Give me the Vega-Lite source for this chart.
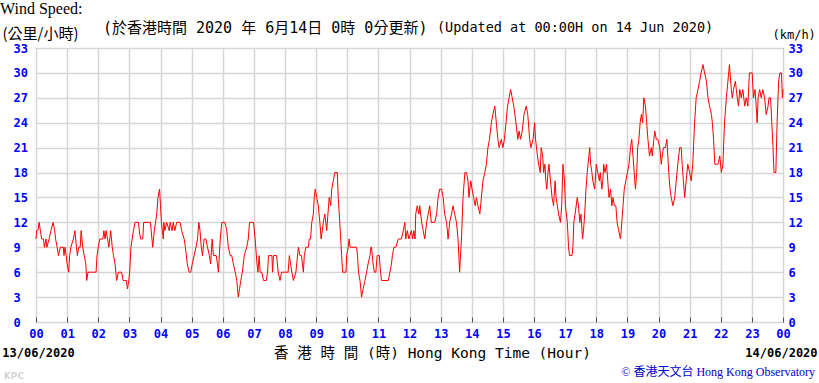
{
  "$schema": "https://vega.github.io/schema/vega-lite/v6.json",
  "width": 747,
  "height": 274,
  "autosize": {"type": "none"},
  "padding": {"left": 36, "top": 48, "right": 36, "bottom": 61},
  "background": "white",
  "title": {"text": "Wind Speed:", "anchor": "start", "frame": "group", "dx": -36, "font": "Liberation Serif", "fontSize": 16, "fontWeight": "normal", "color": "#000000"},
  "config": {"view": {"stroke": "#333333", "strokeWidth": 1}},
  "data": {"values": [
    {"h":0.00,"v":10},{"h":0.02,"v":11},{"h":0.06,"v":11},{"h":0.10,"v":12},{"h":0.14,"v":11},{"h":0.18,"v":10},{"h":0.24,"v":10},{"h":0.27,"v":9},{"h":0.32,"v":10},{"h":0.35,"v":9},{"h":0.42,"v":10},{"h":0.48,"v":11},{"h":0.55,"v":12},{"h":0.60,"v":11},{"h":0.63,"v":10},{"h":0.68,"v":9},{"h":0.72,"v":8},{"h":0.78,"v":9},{"h":0.88,"v":9},{"h":0.90,"v":8},{"h":0.93,"v":9},{"h":0.97,"v":8},{"h":1.00,"v":7},{"h":1.05,"v":6},{"h":1.08,"v":8},{"h":1.12,"v":9},{"h":1.20,"v":10},{"h":1.25,"v":11},{"h":1.30,"v":9},{"h":1.33,"v":8},{"h":1.37,"v":9},{"h":1.42,"v":9},{"h":1.45,"v":11},{"h":1.50,"v":9},{"h":1.55,"v":8},{"h":1.60,"v":7},{"h":1.63,"v":5},{"h":1.67,"v":6},{"h":1.80,"v":6},{"h":1.93,"v":6},{"h":1.96,"v":8},{"h":2.00,"v":9},{"h":2.05,"v":10},{"h":2.15,"v":10},{"h":2.18,"v":11},{"h":2.22,"v":10},{"h":2.25,"v":11},{"h":2.30,"v":10},{"h":2.34,"v":9},{"h":2.37,"v":10},{"h":2.40,"v":11},{"h":2.45,"v":9},{"h":2.49,"v":8},{"h":2.54,"v":7},{"h":2.59,"v":5},{"h":2.65,"v":6},{"h":2.75,"v":6},{"h":2.80,"v":5},{"h":2.90,"v":5},{"h":2.94,"v":4},{"h":2.98,"v":5},{"h":3.01,"v":6},{"h":3.05,"v":9},{"h":3.13,"v":11},{"h":3.18,"v":12},{"h":3.29,"v":12},{"h":3.32,"v":11},{"h":3.36,"v":10},{"h":3.43,"v":10},{"h":3.46,"v":12},{"h":3.68,"v":12},{"h":3.70,"v":11},{"h":3.75,"v":9},{"h":3.80,"v":11},{"h":3.84,"v":12},{"h":3.88,"v":13},{"h":3.92,"v":15},{"h":3.97,"v":16},{"h":4.00,"v":14},{"h":4.03,"v":12},{"h":4.06,"v":11},{"h":4.09,"v":10},{"h":4.11,"v":12},{"h":4.14,"v":11},{"h":4.20,"v":12},{"h":4.28,"v":11},{"h":4.31,"v":12},{"h":4.37,"v":11},{"h":4.41,"v":12},{"h":4.46,"v":11},{"h":4.52,"v":12},{"h":4.63,"v":12},{"h":4.68,"v":11},{"h":4.76,"v":10},{"h":4.80,"v":9},{"h":4.86,"v":7},{"h":4.92,"v":6},{"h":4.97,"v":6},{"h":5.02,"v":7},{"h":5.08,"v":8},{"h":5.14,"v":9},{"h":5.19,"v":10},{"h":5.23,"v":12},{"h":5.27,"v":11},{"h":5.31,"v":9},{"h":5.35,"v":8},{"h":5.40,"v":10},{"h":5.46,"v":10},{"h":5.51,"v":9},{"h":5.57,"v":8},{"h":5.61,"v":7},{"h":5.66,"v":10},{"h":5.70,"v":8},{"h":5.79,"v":8},{"h":5.83,"v":7},{"h":5.86,"v":6},{"h":5.92,"v":10},{"h":5.97,"v":12},{"h":6.07,"v":12},{"h":6.13,"v":11},{"h":6.18,"v":9},{"h":6.24,"v":8},{"h":6.29,"v":8},{"h":6.34,"v":7},{"h":6.40,"v":6},{"h":6.45,"v":5},{"h":6.50,"v":3},{"h":6.54,"v":4},{"h":6.58,"v":5},{"h":6.63,"v":6},{"h":6.69,"v":8},{"h":6.77,"v":9},{"h":6.82,"v":10},{"h":6.86,"v":12},{"h":6.99,"v":12},{"h":7.04,"v":10},{"h":7.10,"v":7},{"h":7.13,"v":6},{"h":7.17,"v":8},{"h":7.20,"v":6},{"h":7.25,"v":6},{"h":7.31,"v":5},{"h":7.40,"v":5},{"h":7.44,"v":6},{"h":7.47,"v":8},{"h":7.58,"v":8},{"h":7.60,"v":6},{"h":7.63,"v":8},{"h":7.73,"v":8},{"h":7.78,"v":6},{"h":7.84,"v":5},{"h":7.89,"v":6},{"h":8.10,"v":6},{"h":8.14,"v":8},{"h":8.18,"v":7},{"h":8.22,"v":6},{"h":8.27,"v":5},{"h":8.35,"v":6},{"h":8.43,"v":9},{"h":8.48,"v":8},{"h":8.53,"v":8},{"h":8.59,"v":6},{"h":8.62,"v":8},{"h":8.67,"v":9},{"h":8.75,"v":9},{"h":8.78,"v":10},{"h":8.82,"v":10},{"h":8.86,"v":12},{"h":8.91,"v":13},{"h":8.94,"v":15},{"h":8.97,"v":16},{"h":9.02,"v":15},{"h":9.07,"v":14},{"h":9.12,"v":12},{"h":9.16,"v":10},{"h":9.20,"v":11},{"h":9.23,"v":12},{"h":9.28,"v":13},{"h":9.34,"v":11},{"h":9.38,"v":13},{"h":9.42,"v":15},{"h":9.47,"v":14},{"h":9.50,"v":16},{"h":9.55,"v":17},{"h":9.60,"v":18},{"h":9.68,"v":18},{"h":9.71,"v":15},{"h":9.76,"v":12},{"h":9.82,"v":8},{"h":9.85,"v":6},{"h":9.96,"v":6},{"h":9.98,"v":8},{"h":10.03,"v":9},{"h":10.06,"v":10},{"h":10.09,"v":9},{"h":10.30,"v":9},{"h":10.33,"v":8},{"h":10.36,"v":6},{"h":10.41,"v":5},{"h":10.46,"v":3},{"h":10.51,"v":4},{"h":10.57,"v":5},{"h":10.62,"v":6},{"h":10.67,"v":7},{"h":10.73,"v":8},{"h":10.76,"v":9},{"h":10.78,"v":9},{"h":10.83,"v":7},{"h":10.87,"v":6},{"h":10.92,"v":6},{"h":10.96,"v":8},{"h":11.03,"v":8},{"h":11.07,"v":6},{"h":11.10,"v":5},{"h":11.32,"v":5},{"h":11.37,"v":6},{"h":11.42,"v":7},{"h":11.45,"v":8},{"h":11.50,"v":9},{"h":11.56,"v":9},{"h":11.64,"v":10},{"h":11.74,"v":10},{"h":11.80,"v":11},{"h":11.85,"v":12},{"h":11.88,"v":10},{"h":11.93,"v":11},{"h":11.98,"v":10},{"h":12.06,"v":11},{"h":12.10,"v":10},{"h":12.14,"v":11},{"h":12.18,"v":10},{"h":12.20,"v":13},{"h":12.25,"v":14},{"h":12.30,"v":13},{"h":12.33,"v":14},{"h":12.39,"v":12},{"h":12.44,"v":11},{"h":12.49,"v":10},{"h":12.55,"v":12},{"h":12.60,"v":13},{"h":12.65,"v":14},{"h":12.70,"v":12},{"h":12.76,"v":12},{"h":12.81,"v":12},{"h":12.87,"v":13},{"h":12.92,"v":15},{"h":12.97,"v":16},{"h":13.03,"v":16},{"h":13.08,"v":15},{"h":13.13,"v":13},{"h":13.19,"v":12},{"h":13.24,"v":10},{"h":13.29,"v":12},{"h":13.35,"v":13},{"h":13.40,"v":14},{"h":13.45,"v":13},{"h":13.51,"v":12},{"h":13.56,"v":10},{"h":13.61,"v":6},{"h":13.67,"v":10},{"h":13.72,"v":15},{"h":13.78,"v":18},{"h":13.83,"v":18},{"h":13.88,"v":17},{"h":13.91,"v":15},{"h":13.97,"v":17},{"h":14.01,"v":16},{"h":14.06,"v":15},{"h":14.11,"v":14},{"h":14.15,"v":15},{"h":14.20,"v":14},{"h":14.26,"v":13},{"h":14.31,"v":15},{"h":14.36,"v":17},{"h":14.42,"v":18},{"h":14.47,"v":19},{"h":14.52,"v":21},{"h":14.57,"v":22},{"h":14.63,"v":24},{"h":14.68,"v":25},{"h":14.74,"v":26},{"h":14.79,"v":24},{"h":14.84,"v":22},{"h":14.88,"v":21},{"h":14.95,"v":22},{"h":15.00,"v":21},{"h":15.05,"v":22},{"h":15.10,"v":24},{"h":15.15,"v":26},{"h":15.20,"v":27},{"h":15.25,"v":28},{"h":15.30,"v":27},{"h":15.35,"v":26},{"h":15.42,"v":24},{"h":15.48,"v":22},{"h":15.52,"v":23},{"h":15.57,"v":22},{"h":15.62,"v":23},{"h":15.68,"v":25},{"h":15.75,"v":26},{"h":15.80,"v":25},{"h":15.86,"v":22},{"h":15.90,"v":21},{"h":15.97,"v":22},{"h":16.02,"v":24},{"h":16.05,"v":22},{"h":16.11,"v":20},{"h":16.15,"v":19},{"h":16.20,"v":18},{"h":16.23,"v":21},{"h":16.28,"v":20},{"h":16.31,"v":18},{"h":16.35,"v":19},{"h":16.38,"v":17},{"h":16.41,"v":16},{"h":16.45,"v":18},{"h":16.48,"v":19},{"h":16.53,"v":17},{"h":16.58,"v":15},{"h":16.63,"v":14},{"h":16.66,"v":16},{"h":16.68,"v":17},{"h":16.71,"v":15},{"h":16.79,"v":13},{"h":16.85,"v":12},{"h":16.89,"v":14},{"h":16.93,"v":19},{"h":16.98,"v":17},{"h":17.01,"v":14},{"h":17.07,"v":12},{"h":17.11,"v":9},{"h":17.14,"v":8},{"h":17.22,"v":8},{"h":17.25,"v":9},{"h":17.28,"v":12},{"h":17.32,"v":13},{"h":17.39,"v":15},{"h":17.43,"v":14},{"h":17.47,"v":12},{"h":17.51,"v":13},{"h":17.56,"v":10},{"h":17.59,"v":11},{"h":17.63,"v":13},{"h":17.67,"v":16},{"h":17.71,"v":18},{"h":17.79,"v":21},{"h":17.82,"v":19},{"h":17.86,"v":18},{"h":17.89,"v":17},{"h":17.95,"v":16},{"h":18.00,"v":19},{"h":18.05,"v":18},{"h":18.10,"v":17},{"h":18.13,"v":18},{"h":18.18,"v":16},{"h":18.21,"v":17},{"h":18.24,"v":19},{"h":18.28,"v":18},{"h":18.33,"v":19},{"h":18.37,"v":17},{"h":18.41,"v":15},{"h":18.46,"v":16},{"h":18.50,"v":14},{"h":18.54,"v":15},{"h":18.58,"v":14},{"h":18.63,"v":14},{"h":18.67,"v":12},{"h":18.72,"v":11},{"h":18.78,"v":10},{"h":18.82,"v":12},{"h":18.86,"v":14},{"h":18.90,"v":16},{"h":18.95,"v":17},{"h":19.00,"v":18},{"h":19.05,"v":19},{"h":19.10,"v":21},{"h":19.14,"v":22},{"h":19.18,"v":20},{"h":19.22,"v":18},{"h":19.26,"v":16},{"h":19.30,"v":18},{"h":19.33,"v":21},{"h":19.37,"v":22},{"h":19.41,"v":24},{"h":19.45,"v":25},{"h":19.49,"v":24},{"h":19.53,"v":27},{"h":19.58,"v":26},{"h":19.62,"v":24},{"h":19.66,"v":22},{"h":19.71,"v":20},{"h":19.77,"v":21},{"h":19.80,"v":20},{"h":19.85,"v":22},{"h":19.88,"v":23},{"h":19.93,"v":22},{"h":19.98,"v":22},{"h":20.04,"v":21},{"h":20.09,"v":19},{"h":20.12,"v":20},{"h":20.16,"v":21},{"h":20.22,"v":21},{"h":20.27,"v":22},{"h":20.30,"v":20},{"h":20.33,"v":18},{"h":20.37,"v":16},{"h":20.41,"v":15},{"h":20.46,"v":14},{"h":20.52,"v":15},{"h":20.57,"v":17},{"h":20.62,"v":19},{"h":20.68,"v":21},{"h":20.73,"v":21},{"h":20.76,"v":19},{"h":20.80,"v":17},{"h":20.84,"v":15},{"h":20.89,"v":17},{"h":20.94,"v":19},{"h":21.00,"v":18},{"h":21.05,"v":17},{"h":21.10,"v":19},{"h":21.16,"v":24},{"h":21.21,"v":27},{"h":21.27,"v":28},{"h":21.32,"v":29},{"h":21.37,"v":30},{"h":21.43,"v":31},{"h":21.48,"v":30},{"h":21.54,"v":29},{"h":21.59,"v":27},{"h":21.64,"v":26},{"h":21.70,"v":25},{"h":21.73,"v":24},{"h":21.77,"v":22},{"h":21.81,"v":19},{"h":21.86,"v":19},{"h":21.91,"v":19},{"h":21.97,"v":20},{"h":22.02,"v":18},{"h":22.07,"v":19},{"h":22.12,"v":24},{"h":22.18,"v":27},{"h":22.23,"v":29},{"h":22.28,"v":31},{"h":22.34,"v":28},{"h":22.37,"v":27},{"h":22.41,"v":28},{"h":22.47,"v":29},{"h":22.50,"v":28},{"h":22.53,"v":27},{"h":22.57,"v":26},{"h":22.61,"v":28},{"h":22.66,"v":27},{"h":22.71,"v":28},{"h":22.77,"v":26},{"h":22.82,"v":27},{"h":22.87,"v":26},{"h":22.92,"v":30},{"h":23.01,"v":30},{"h":23.05,"v":27},{"h":23.10,"v":28},{"h":23.14,"v":26},{"h":23.17,"v":24},{"h":23.20,"v":27},{"h":23.25,"v":28},{"h":23.30,"v":27},{"h":23.35,"v":28},{"h":23.41,"v":27},{"h":23.46,"v":25},{"h":23.52,"v":26},{"h":23.55,"v":27},{"h":23.60,"v":27},{"h":23.64,"v":24},{"h":23.68,"v":21},{"h":23.71,"v":18},{"h":23.77,"v":18},{"h":23.81,"v":24},{"h":23.86,"v":29},{"h":23.90,"v":30},{"h":23.95,"v":30},{"h":23.98,"v":27},{"h":24.00,"v":28}
  ]},
  "layer": [
    {
      "mark": {"type": "line", "color": "#ff0000", "strokeWidth": 1},
      "encoding": {
        "x": {"field": "h", "type": "quantitative", "scale": {"domain": [0, 24], "nice": false},
          "axis": {"orient": "bottom", "values": [0,1,2,3,4,5,6,7,8,9,10,11,12,13,14,15,16,17,18,19,20,21,22,23,24],
            "grid": true, "gridColor": "#d6d6d6", "gridWidth": 1.5, "gridOpacity": 1, "domain": false,
            "ticks": true, "tickSize": -5, "tickColor": "#555555", "tickWidth": 1, "labelPadding": 11,
            "labelFont": "DejaVu Sans Mono", "labelFontWeight": "bold", "labelFontSize": 12, "labelColor": "#0000ff",
            "labelFlush": false, "labelOverlap": false,
            "labelExpr": "datum.value == 24 ? '00' : (datum.value < 10 ? '0' + datum.value : '' + datum.value)",
            "title": "香 港 時 間 (時) Hong Kong Time (Hour)", "titleFont": "DejaVu Sans Mono, Noto Sans CJK TC", "titleFontSize": 14.5,
            "titleFontWeight": "normal", "titleColor": "#000000", "titleX": 396, "titleY": 31, "titleAlign": "center", "titleBaseline": "middle"}},
        "y": {"field": "v", "type": "quantitative", "scale": {"domain": [0, 33], "nice": false},
          "axis": {"orient": "left", "values": [0,3,6,9,12,15,18,21,24,27,30,33], "grid": true, "gridColor": "#d6d6d6", "gridWidth": 1.5, "gridOpacity": 1,
            "domain": false, "ticks": false, "tickSize": 0, "labelAlign": "left", "labelPadding": 23,
            "labelFont": "DejaVu Sans Mono", "labelFontWeight": "bold", "labelFontSize": 12, "labelColor": "#0000ff",
            "title": "(公里/小時)", "titleAngle": 0, "titleAlign": "left", "titleBaseline": "middle", "titleX": -34, "titleY": -15,
            "titleFont": "Noto Sans CJK TC", "titleFontSize": 15, "titleFontWeight": "normal", "titleColor": "#000000"}}
      }
    },
    {
      "mark": {"type": "line", "strokeOpacity": 0},
      "encoding": {
        "x": {"field": "h", "type": "quantitative", "scale": {"domain": [0, 24], "nice": false}, "axis": null},
        "y": {"field": "v", "type": "quantitative", "scale": {"domain": [0, 33], "nice": false},
          "axis": {"orient": "right", "values": [0,3,6,9,12,15,18,21,24,27,30,33], "grid": false, "domain": false, "ticks": false, "tickSize": 0,
            "labelAlign": "left", "labelPadding": 5,
            "labelFont": "DejaVu Sans Mono", "labelFontWeight": "bold", "labelFontSize": 12, "labelColor": "#0000ff",
            "title": "(km/h)", "titleAngle": 0, "titleAlign": "left", "titleBaseline": "middle", "titleX": -11, "titleY": -14,
            "titleFont": "DejaVu Sans Mono", "titleFontSize": 12, "titleFontWeight": "normal", "titleColor": "#000000"}}
      }
    },
    {
      "data": {"values": [{"label": "(於香港時間 2020 年 6月14日 0時 0分更新)"}]},
      "mark": {"type": "text", "align": "left", "baseline": "middle", "font": "DejaVu Sans Mono, Noto Sans CJK TC", "fontSize": 15, "color": "#000000"},
      "encoding": {
        "x": {"datum": 2.15, "type": "quantitative", "scale": {"domain": [0, 24], "nice": false}, "axis": null},
        "y": {"datum": 35.41, "type": "quantitative", "scale": {"domain": [0, 33], "nice": false}, "axis": null},
        "text": {"field": "label"}
      }
    },
    {
      "data": {"values": [{"label": "(Updated at 00:00H on 14 Jun 2020)"}]},
      "mark": {"type": "text", "align": "left", "baseline": "middle", "font": "DejaVu Sans Mono", "fontSize": 13.5, "color": "#000000"},
      "encoding": {
        "x": {"datum": 12.88, "type": "quantitative", "scale": {"domain": [0, 24], "nice": false}, "axis": null},
        "y": {"datum": 35.41, "type": "quantitative", "scale": {"domain": [0, 33], "nice": false}, "axis": null},
        "text": {"field": "label"}
      }
    },
    {
      "data": {"values": [{"label": "13/06/2020"}]},
      "mark": {"type": "text", "align": "center", "baseline": "middle", "font": "DejaVu Sans Mono", "fontWeight": "bold", "fontSize": 12, "color": "#000000"},
      "encoding": {
        "x": {"datum": 0.08, "type": "quantitative", "scale": {"domain": [0, 24], "nice": false}, "axis": null},
        "y": {"datum": -3.73, "type": "quantitative", "scale": {"domain": [0, 33], "nice": false}, "axis": null},
        "text": {"field": "label"}
      }
    },
    {
      "data": {"values": [{"label": "14/06/2020"}]},
      "mark": {"type": "text", "align": "center", "baseline": "middle", "font": "DejaVu Sans Mono", "fontWeight": "bold", "fontSize": 12, "color": "#000000"},
      "encoding": {
        "x": {"datum": 23.95, "type": "quantitative", "scale": {"domain": [0, 24], "nice": false}, "axis": null},
        "y": {"datum": -3.73, "type": "quantitative", "scale": {"domain": [0, 33], "nice": false}, "axis": null},
        "text": {"field": "label"}
      }
    },
    {
      "data": {"values": [{"label": "© 香港天文台 Hong Kong Observatory"}]},
      "mark": {"type": "text", "align": "right", "baseline": "middle", "font": "Liberation Serif, Noto Sans CJK TC", "fontSize": 12, "color": "#0000cc"},
      "encoding": {
        "x": {"datum": 25.03, "type": "quantitative", "scale": {"domain": [0, 24], "nice": false}, "axis": null},
        "y": {"datum": -6.02, "type": "quantitative", "scale": {"domain": [0, 33], "nice": false}, "axis": null},
        "text": {"field": "label"}
      }
    },
    {
      "data": {"values": [{"label": "KPC"}]},
      "mark": {"type": "text", "align": "center", "baseline": "middle", "font": "DejaVu Sans", "fontWeight": "bold", "fontSize": 9, "color": "#d4d4d4"},
      "encoding": {
        "x": {"datum": -0.71, "type": "quantitative", "scale": {"domain": [0, 24], "nice": false}, "axis": null},
        "y": {"datum": -6.5, "type": "quantitative", "scale": {"domain": [0, 33], "nice": false}, "axis": null},
        "text": {"field": "label"}
      }
    }
  ],
  "resolve": {"scale": {"y": "independent"}, "axis": {"x": "independent", "y": "independent"}}
}
